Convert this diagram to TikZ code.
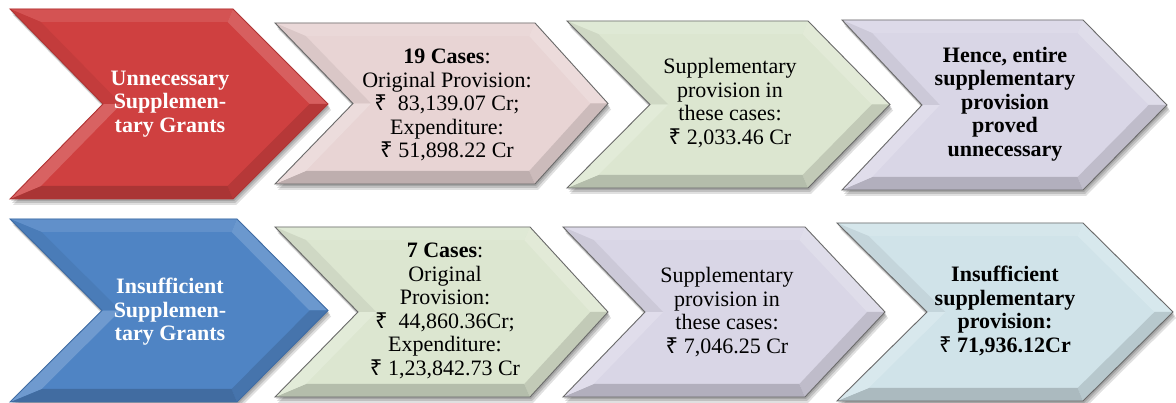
\documentclass[tikz,border=0pt]{standalone}
\usepackage{fontspec}
\setmainfont{Liberation Serif}
\newfontfamily\rsfont{Noto Sans}
\newcommand{\rupee}{{\rsfont\char"20B9}}
\definecolor{cRed}{HTML}{CF4040}
\definecolor{cRedL}{HTML}{B03434}
\definecolor{cPink}{HTML}{E8D4D4}
\definecolor{cGreen}{HTML}{DCE6D0}
\definecolor{cLav}{HTML}{D9D6E6}
\definecolor{cBlue}{HTML}{4F84C4}
\definecolor{cBlueL}{HTML}{3F6CA4}
\definecolor{cLBlue}{HTML}{D0E3E9}
\definecolor{cGrayL}{HTML}{6A6A6A}
\newcommand{\chev}[8]{%
 \pgfmathsetmacro\cvxa{#1}\pgfmathsetmacro\cvyt{#2}\pgfmathsetmacro\cvxb{#3}%
 \pgfmathsetmacro\cvxt{#4}\pgfmathsetmacro\cvyb{#5}\pgfmathsetmacro\cvxn{#6}%
 \pgfmathsetmacro\cvym{(#2+#5)/2}%
 \pgfmathsetmacro\cvh{(#5-#2)/2}%
 \pgfmathsetmacro\cvwr{#4-#3}%
 \pgfmathsetmacro\cvwl{#6-#1}%
 \pgfmathsetmacro\cvLr{10*sqrt((\cvwr/10)^2+(\cvh/10)^2)}%
 \pgfmathsetmacro\cvLl{10*sqrt((\cvwl/10)^2+(\cvh/10)^2)}%
 \def\cvd{13}%
 \pgfmathsetmacro\cvia{#1+(\cvwl+\cvLl)*\cvd/\cvh}%
 \pgfmathsetmacro\cvib{#3+(\cvwr-\cvLr)*\cvd/\cvh}%
 \pgfmathsetmacro\cvit{#4-\cvd*\cvLr/\cvh}%
 \pgfmathsetmacro\cvin{#6+\cvd*\cvLl/\cvh}%
 \pgfmathsetmacro\cviyt{#2+\cvd}%
 \pgfmathsetmacro\cviyb{#5-\cvd}%
 \foreach \sx/\sy/\op in {1/2/0.14,2/4/0.14,3/6/0.12}{%
  \fill[black,opacity=\op,shift={(\sx,\sy)}] (\cvxa,\cvyt) -- (\cvxb,\cvyt) -- (\cvxt,\cvym) -- (\cvxb,\cvyb) -- (\cvxa,\cvyb) -- (\cvxn,\cvym) -- cycle;}%
 \fill[#7] (\cvxa,\cvyt) -- (\cvxb,\cvyt) -- (\cvxt,\cvym) -- (\cvxb,\cvyb) -- (\cvxa,\cvyb) -- (\cvxn,\cvym) -- cycle;
 % top
 \fill[#7!90!white] (\cvxa,\cvyt) -- (\cvxb,\cvyt) -- (\cvib,\cviyt) -- (\cvia,\cviyt) -- cycle;
 % upper right
 \fill[#7!84!white] (\cvxb,\cvyt) -- (\cvxt,\cvym) -- (\cvit,\cvym) -- (\cvib,\cviyt) -- cycle;
 % lower right
 \fill[#7!88!black] (\cvxt,\cvym) -- (\cvxb,\cvyb) -- (\cvib,\cviyb) -- (\cvit,\cvym) -- cycle;
 % bottom
 \fill[#7!82!black] (\cvxb,\cvyb) -- (\cvxa,\cvyb) -- (\cvia,\cviyb) -- (\cvib,\cviyb) -- cycle;
 % lower left
 \fill[#7!82!white] (\cvxa,\cvyb) -- (\cvxn,\cvym) -- (\cvin,\cvym) -- (\cvia,\cviyb) -- cycle;
 % upper left
 \fill[#7!94!black] (\cvxn,\cvym) -- (\cvxa,\cvyt) -- (\cvia,\cviyt) -- (\cvin,\cvym) -- cycle;
 \draw[#8,line width=0.9] (\cvxa,\cvyt) -- (\cvxb,\cvyt) -- (\cvxt,\cvym) -- (\cvxb,\cvyb) -- (\cvxa,\cvyb) -- (\cvxn,\cvym) -- cycle;
}
\tikzset{
 txt/.style={align=center,inner sep=0pt,font=\fontsize{22}{23.5}\selectfont},
 btxt/.style={txt,font=\fontsize{22}{23.5}\selectfont\bfseries},
}
\begin{document}
\begin{tikzpicture}[x=1pt,y=-1pt]
\useasboundingbox (0,0) rectangle (1176,403);
\fill[white] (0,0) rectangle (1176,403);
% row 1
\chev{10}{9}{233}{328}{199}{103}{cRed}{cRedL}
\chev{275}{23}{535}{608}{184}{353}{cPink}{cGrayL}
\chev{567}{21}{808}{890}{188}{650}{cGreen}{cGrayL}
\chev{842}{20}{1083}{1167}{190}{922}{cLav}{cGrayL}
% row 2
\chev{10}{219}{237}{328}{402}{102}{cBlue}{cBlueL}
\chev{275}{227}{530}{608}{397}{358}{cGreen}{cGrayL}
\chev{563}{227}{805}{885}{397}{645}{cLav}{cGrayL}
\chev{837}{223}{1083}{1173}{401}{927}{cLBlue}{cGrayL}
% texts row 1
\node[btxt,text=white] (u1) at (170,104) {Unnecessary\\Supplemen-\\tary Grants};
\node[txt] (u2) at (447,105) {\textbf{19 Cases}:\\Original Provision:\\\rupee\enspace83,139.07 Cr;\\Expenditure:\\\rupee\ 51,898.22 Cr};
\node[txt] (u3) at (730,103) {Supplementary\\provision in\\these cases:\\\rupee\ 2,033.46 Cr};
\node[btxt] (u4) at (1005,104) {Hence, entire\\supplementary\\provision\\proved\\unnecessary};
% texts row 2
\node[btxt,text=white] (i1) at (170,312) {Insufficient\\Supplemen-\\tary Grants};
\node[txt] (i2) at (445,311) {\textbf{7 Cases}:\\Original\\Provision:\\\rupee\enspace44,860.36Cr;\\Expenditure:\\\rupee\ 1,23,842.73 Cr};
\node[txt] (i3) at (727,312) {Supplementary\\provision in\\these cases:\\\rupee\ 7,046.25 Cr};
\node[btxt] (i4) at (1005,311) {Insufficient\\supplementary\\provision:\\\rupee\ 71,936.12Cr};
\end{tikzpicture}
\end{document}
